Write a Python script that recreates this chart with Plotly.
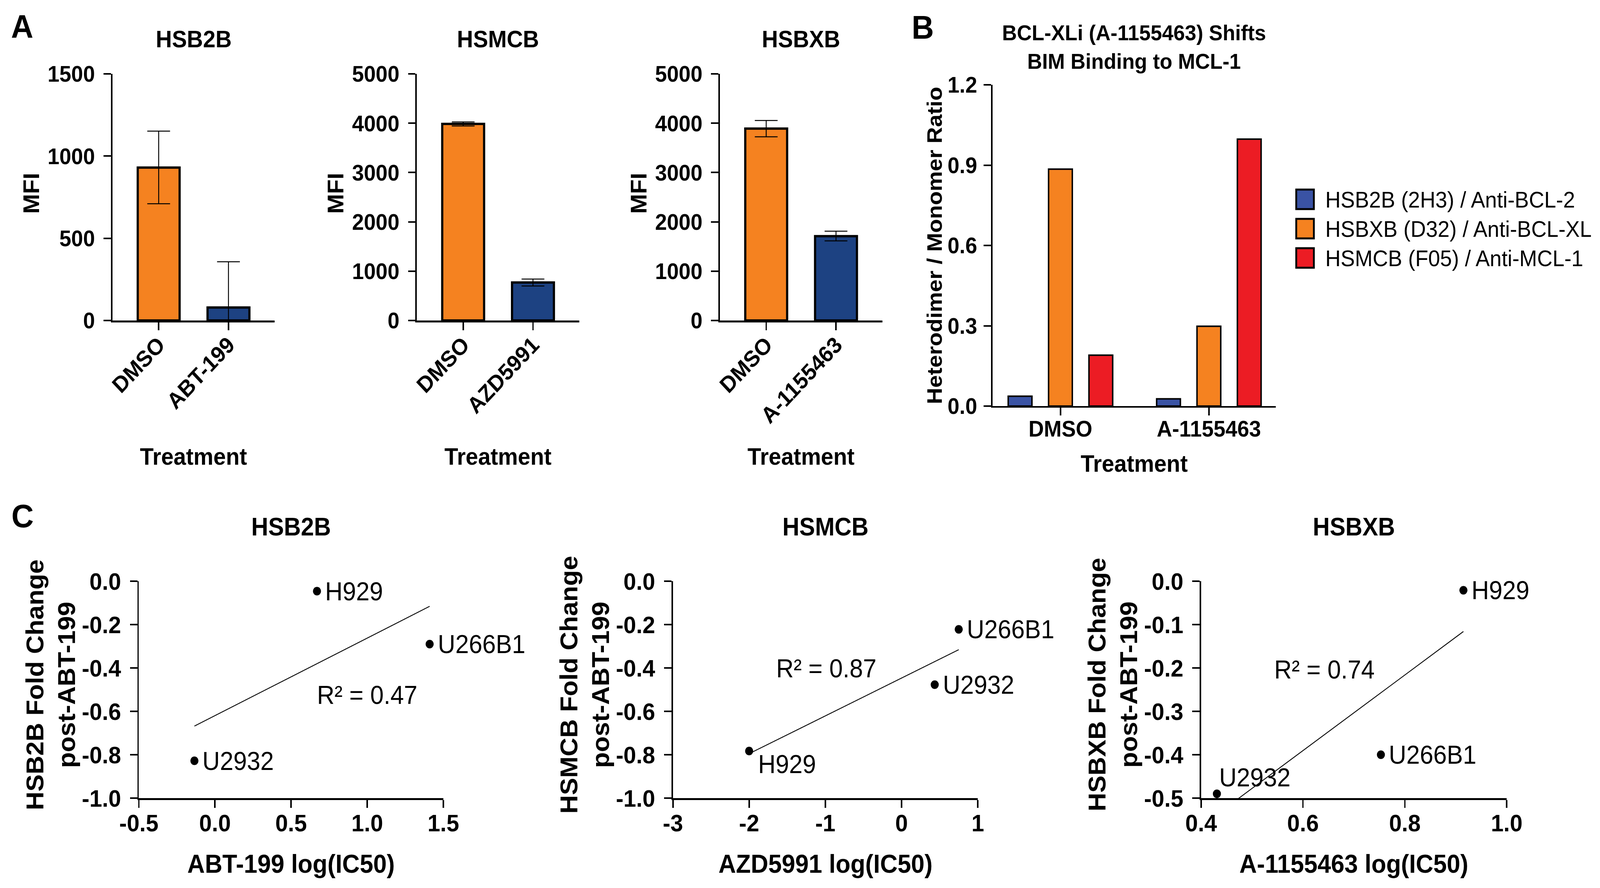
import numpy as np
import plotly.graph_objects as go

# ---------------- data ----------------
# Panel A: MFI per treatment (mean, error)
A_TITLES = ["HSB2B", "HSMCB", "HSBXB"]
A_CATS = [["DMSO", "ABT-199"], ["DMSO", "AZD5991"], ["DMSO", "A-1155463"]]
A_MEAN = [[930, 79], [3985, 770], [3890, 1710]]
A_ERR_UP = [[222, 278], [40, 70], [165, 100]]
A_ERR_DOWN = [[220, 79], [40, 70], [165, 95]]
A_YMAX = [1500, 5000, 5000]
A_YTICKS = [[0, 500, 1000, 1500], [0, 1000, 2000, 3000, 4000, 5000],
            [0, 1000, 2000, 3000, 4000, 5000]]

# Panel B: heterodimer / monomer ratio
B_TITLE = "BCL-XLi (A-1155463) Shifts<br>BIM Binding to MCL-1"
B_CATS = ["DMSO", "A-1155463"]
B_SERIES = ["HSB2B (2H3) / Anti-BCL-2", "HSBXB (D32) / Anti-BCL-XL",
            "HSMCB (F05) / Anti-MCL-1"]
B_VALUES = [[0.037, 0.027], [0.885, 0.298], [0.19, 0.997]]
B_YTICKS = [0.0, 0.3, 0.6, 0.9, 1.2]
B_YTICKTEXT = ["0.0", "0.3", "0.6", "0.9", "1.2"]

# Panel C: fold change vs log(IC50)
C_TITLES = ["HSB2B", "HSMCB", "HSBXB"]
C_YTITLES = ["HSB2B Fold Change<br>post-ABT-199", "HSMCB Fold Change<br>post-ABT-199",
             "HSBXB Fold Change<br>post-ABT-199"]
C_XTITLES = ["ABT-199 log(IC50)", "AZD5991 log(IC50)", "A-1155463 log(IC50)"]
C_LINES = [["H929", "U266B1", "U2932"], ["H929", "U266B1", "U2932"],
           ["H929", "U266B1", "U2932"]]
C_X = [[0.67, 1.41, -0.135], [-2.0, 0.75, 0.435], [0.915, 0.753, 0.431]]
C_Y = [[-0.046, -0.29, -0.828], [-0.783, -0.222, -0.477], [-0.021, -0.40, -0.49]]
C_R2 = ["0.47", "0.87", "0.74"]
C_R2_POS = [(1.0, -0.524), (-0.99, -0.402), (0.642, -0.204)]
C_XTICKS = [[-0.5, 0.0, 0.5, 1.0, 1.5], [-3, -2, -1, 0, 1], [0.4, 0.6, 0.8, 1.0]]
C_XTICKTEXT = [["-0.5", "0.0", "0.5", "1.0", "1.5"], ["-3", "-2", "-1", "0", "1"],
               ["0.4", "0.6", "0.8", "1.0"]]
C_YTICKS = [[-1.0, -0.8, -0.6, -0.4, -0.2, 0.0], [-1.0, -0.8, -0.6, -0.4, -0.2, 0.0],
            [-0.5, -0.4, -0.3, -0.2, -0.1, 0.0]]
C_YTICKTEXT = [["-1.0", "-0.8", "-0.6", "-0.4", "-0.2", "0.0"],
               ["-1.0", "-0.8", "-0.6", "-0.4", "-0.2", "0.0"],
               ["-0.5", "-0.4", "-0.3", "-0.2", "-0.1", "0.0"]]
C_XRANGE = [[-0.5, 1.5], [-3, 1], [0.4, 1.0]]
C_YRANGE = [[-1.0, 0.0], [-1.0, 0.0], [-0.5, 0.0]]

# ---------------- styling ----------------
W, H = 4356, 2272          # positions below are in these pixels
FONT = "Liberation Sans"
ORANGE = "#F58220"
NAVY = "#1D4282"
B_COLORS = ["#3A53A4", "#F58220", "#EC1C24"]


def fx(p):
    return p / W


def fy(p):
    return 1 - p / H


axis_base = dict(showline=True, linecolor="black", linewidth=4, ticks="outside",
                 ticklen=20, tickwidth=4, tickcolor="black", showgrid=False,
                 zeroline=False, fixedrange=True, automargin=False)


def tfont(size):
    return dict(family=FONT, size=size, color="black", weight="bold")


def note(text, x, y, size, bold=True, angle=0, xanchor="center"):
    # text placed in figure pixels (top-left origin)
    f = tfont(size) if bold else dict(family=FONT, size=size, color="black")
    return dict(text=text, x=fx(x), y=fy(y), xref="paper", yref="paper",
                xanchor=xanchor, yanchor="middle", showarrow=False,
                textangle=angle, font=f)


fig = go.Figure()
layout = {}
annotations = []
shapes = []

# ---------------- panel A ----------------
A_XDOM = [(306, 748), (1135, 1577), (1960, 2402)]
A_YDOM = (189, 820)
for i in range(3):
    n = i + 1
    xa, ya = ("x" if n == 1 else f"x{n}"), ("y" if n == 1 else f"y{n}")
    fig.add_trace(go.Bar(
        x=A_CATS[i], y=A_MEAN[i], width=0.6,
        marker=dict(color=[ORANGE, NAVY], line=dict(color="black", width=6)),
        error_y=dict(type="data", array=A_ERR_UP[i], arrayminus=A_ERR_DOWN[i],
                     color="black", thickness=2.5, width=31),
        xaxis=xa, yaxis=ya, showlegend=False))
    layout[f"xaxis{n}"] = dict(axis_base, domain=[fx(A_XDOM[i][0]), fx(A_XDOM[i][1])],
                               anchor=ya, type="category", range=[-0.663, 1.663],
                               tickangle=-45, tickfont=tfont(58), linewidth=5,
                               ticklabelstandoff=-20)
    layout[f"yaxis{n}"] = dict(axis_base, domain=[fy(A_YDOM[1]), fy(A_YDOM[0])],
                               anchor=xa, range=[0, A_YMAX[i]], tickvals=A_YTICKS[i],
                               tickfont=tfont(58), ticklabelstandoff=12)
    cx = (A_XDOM[i][0] + A_XDOM[i][1]) / 2
    annotations.append(note(A_TITLES[i], cx, 100, 61))
    annotations.append(note("Treatment", cx, 1168, 61))
    annotations.append(note("MFI", A_XDOM[i][0] - 221, 495, 61, angle=-90))

# ---------------- panel B ----------------
B_XDOM = (2702, 3473)
B_YDOM = (217, 1039)
offsets = [-0.352, -0.08, 0.192]
for k in range(3):
    fig.add_trace(go.Bar(
        x=B_CATS, y=B_VALUES[k], name=B_SERIES[k], width=0.16, offset=offsets[k],
        marker=dict(color=B_COLORS[k], line=dict(color="black", width=4)),
        xaxis="x4", yaxis="y4", showlegend=False))
layout["xaxis4"] = dict(axis_base, domain=[fx(B_XDOM[0]), fx(B_XDOM[1])], anchor="y4",
                        type="category", range=[-0.458, 1.45], tickfont=tfont(58),
                        ticklabelstandoff=-16)
layout["yaxis4"] = dict(axis_base, domain=[fy(B_YDOM[1]), fy(B_YDOM[0])], anchor="x4",
                        range=[0, 1.2], tickvals=B_YTICKS, ticktext=B_YTICKTEXT,
                        tickfont=tfont(58), ticklabelstandoff=6)
bcx = (B_XDOM[0] + B_XDOM[1]) / 2
annotations.append(note(B_TITLE, bcx, 120, 56))
annotations.append(note("Treatment", bcx, 1186, 61))
annotations.append(note("Heterodimer / Monomer Ratio", 2543, 628, 58, angle=-90))
# legend drawn by hand so the swatches can be large
for k, name in enumerate(B_SERIES):
    yc = 510 + 75 * k
    shapes.append(dict(type="rect", xref="paper", yref="paper",
                       x0=fx(3529), x1=fx(3577), y0=fy(yc + 25), y1=fy(yc - 25),
                       fillcolor=B_COLORS[k], line=dict(color="black", width=5)))
    annotations.append(note(name, 3606, yc, 58, bold=False, xanchor="left"))

# ---------------- panel C ----------------
C_XDOM = [(378, 1207), (1832, 2662), (3270, 4102)]
C_YDOM = (1487, 2042)
LABEL_SHIFT = [
    [(20, 0), (20, 0), (20, 0)],
    [(22, -33), (20, 0), (20, 0)],
    [(20, 0), (20, 0), (4, 42)],
]
for i in range(3):
    n = i + 5
    xa, ya = f"x{n}", f"y{n}"
    xs = np.array(C_X[i])
    ys = np.array(C_Y[i])
    slope, intercept = np.polyfit(xs, ys, 1)
    xfit = np.array([xs.min(), xs.max()])
    fig.add_trace(go.Scatter(x=xfit, y=slope * xfit + intercept, mode="lines",
                             line=dict(color="black", width=2.2),
                             xaxis=xa, yaxis=ya, showlegend=False))
    fig.add_trace(go.Scatter(x=xs, y=ys, mode="markers", cliponaxis=False,
                             marker=dict(color="black", size=22),
                             xaxis=xa, yaxis=ya, showlegend=False))
    for j, name in enumerate(C_LINES[i]):
        dx, dy = LABEL_SHIFT[i][j]
        annotations.append(dict(text=name, x=C_X[i][j], y=C_Y[i][j], xref=xa, yref=ya,
                                xanchor="left", yanchor="middle", xshift=dx, yshift=dy,
                                showarrow=False,
                                font=dict(family=FONT, size=66, color="black")))
    annotations.append(dict(text="R² = " + C_R2[i], x=C_R2_POS[i][0], y=C_R2_POS[i][1],
                            xref=xa, yref=ya, xanchor="center", yanchor="middle",
                            showarrow=False,
                            font=dict(family=FONT, size=66, color="black")))
    layout[f"xaxis{n}"] = dict(axis_base, domain=[fx(C_XDOM[i][0]), fx(C_XDOM[i][1])],
                               anchor=ya, range=C_XRANGE[i], tickvals=C_XTICKS[i],
                               ticktext=C_XTICKTEXT[i], tickfont=tfont(62), linewidth=5,
                               ticklabelstandoff=-14)
    layout[f"yaxis{n}"] = dict(axis_base, domain=[fy(C_YDOM[1]), fy(C_YDOM[0])],
                               anchor=xa, range=C_YRANGE[i], tickvals=C_YTICKS[i],
                               ticktext=C_YTICKTEXT[i], tickfont=tfont(62),
                               ticklabelstandoff=12)
    cx = (C_XDOM[i][0] + C_XDOM[i][1]) / 2
    annotations.append(note(C_TITLES[i], cx, 1348, 64))
    annotations.append(note(C_XTITLES[i], cx, 2210, 66))
    annotations.append(note(C_YTITLES[i], C_XDOM[i][0] - 240, 1752, 66, angle=-90))

# panel letters
for letter, (lx, ly) in zip(["A", "B", "C"], [(60, 68), (2512, 70), (61, 1320)]):
    annotations.append(note(letter, lx, ly, 84))

fig.update_layout(**layout)
fig.update_layout(
    width=W, height=H,
    margin=dict(l=0, r=0, t=0, b=0),
    paper_bgcolor="white", plot_bgcolor="white",
    annotations=annotations, shapes=shapes,
    showlegend=False,
)

# the window can come out narrower than the figure: scale the whole figure
# so it fills the visible page
fit_js = ("var gd=document.getElementById('{plot_id}');"
          "document.body.style.margin='0';"
          "document.documentElement.style.overflow='hidden';"
          "document.body.style.overflow='hidden';"
          "var sx=window.innerWidth/%d, sy=window.innerHeight/%d;"
          "gd.style.transformOrigin='0 0';"
          "gd.style.transform='scale('+sx+','+sy+')';" % (W, H))
fig.write_html("out.html", config={"displayModeBar": False}, post_script=fit_js)
